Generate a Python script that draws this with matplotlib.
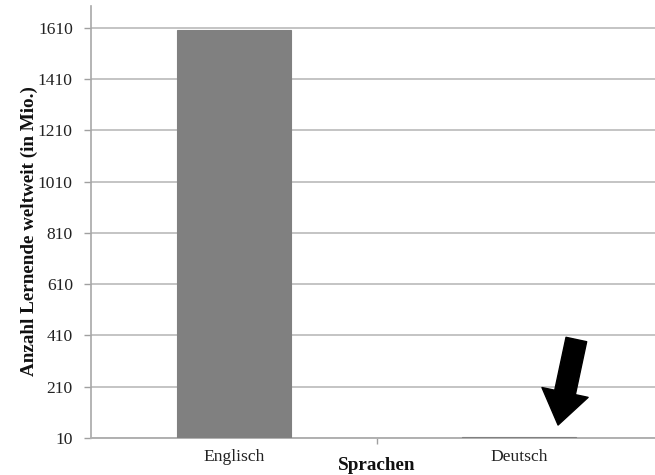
import numpy as np
import matplotlib.pyplot as plt

# Lernende weltweit nach Sprache (in Mio.)
sprachen = ['Englisch', 'Deutsch']
lernende = [1600, 15]
y_ticks = [10, 210, 410, 610, 810, 1010, 1210, 1410, 1610]

plt.rcParams['font.family'] = ['Liberation Serif', 'DejaVu Serif']

fig = plt.figure(figsize=(6.55, 4.75), dpi=100)
ax = fig.add_axes([91 / 655, 37 / 475, 571 / 655, 432 / 475])

x = np.arange(len(sprachen))
ax.bar(x, lernende, width=0.4, bottom=0, color='#808080', edgecolor='#808080',
       linewidth=0.8, zorder=3)

ax.set_xlim(-0.5, 1.5)
ax.set_ylim(10, 1695)
ax.set_yticks(y_ticks)
ax.set_yticklabels([str(t) for t in y_ticks], fontsize=12.6, color='#222222')
ax.set_xticks(x)
ax.set_xticklabels(sprachen, fontsize=12.6, color='#222222')
ax.set_xticks([0.5], minor=True)
ax.tick_params(axis='x', which='major', length=0, pad=8)
ax.tick_params(axis='x', which='minor', length=4, color='#a0a0a0', width=1)
ax.tick_params(axis='y', length=5, color='#a0a0a0', width=1, pad=8)

ax.grid(axis='y', color='#c4c4c4', linewidth=1.4, zorder=0)
for side in ['top', 'right']:
    ax.spines[side].set_visible(False)
ax.spines['left'].set_color('#a8a8a8')
ax.spines['left'].set_linewidth(1.2)
ax.spines['bottom'].set_color('#b0b0b0')
ax.spines['bottom'].set_linewidth(1.4)

ax.set_ylabel('Anzahl Lernende weltweit (in Mio.)', fontsize=13.8,
              fontweight='bold', color='#111111')
ax.yaxis.set_label_coords(-0.093, 0.48)
ax.set_xlabel('Sprachen', fontsize=13.8, fontweight='bold', color='#111111')
ax.xaxis.set_label_coords(0.5, -0.043)

# Pfeil auf den Deutsch-Balken
ax.annotate('', xy=(0.818, 0.03), xytext=(0.85, 0.228), xycoords='axes fraction',
            arrowprops=dict(arrowstyle='simple,head_length=0.6,head_width=0.85,tail_width=0.38',
                            mutation_scale=40, color='black', shrinkA=0, shrinkB=0))

fig.savefig('out.png', dpi=100)
